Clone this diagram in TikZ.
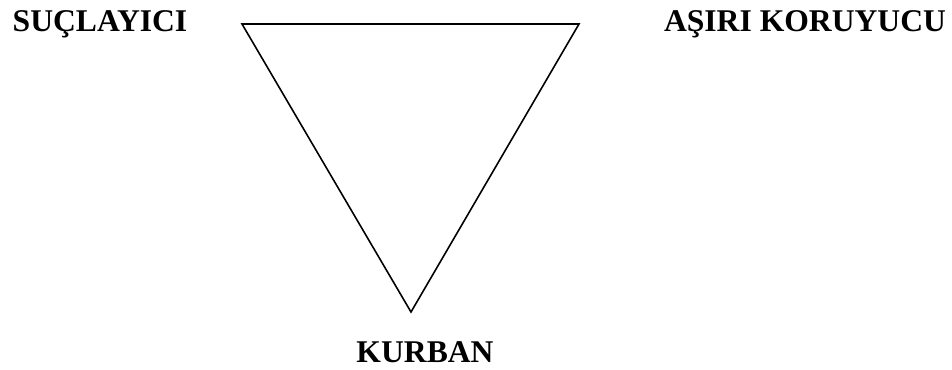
\documentclass[tikz,border=0pt]{standalone}
\usepackage{fontspec}
\setmainfont{Liberation Serif}
\usetikzlibrary{positioning}

\begin{document}
\begin{tikzpicture}[
    x=0.02cm, y=-0.02cm,
    % --- Styles ---
    role/.style={font=\fontsize{18}{21}\selectfont\bfseries, inner sep=0pt, anchor=base},
    edge_line/.style={line width=0.9pt, line join=miter}
]

    % bounding box (952 x 369)
    \useasboundingbox (0,0) rectangle (952,369);

    % ==========================
    % 1. TRIANGLE
    % ==========================
    \coordinate (tl) at (242,24);
    \coordinate (tr) at (579,24);
    \coordinate (bt) at (411,312);

    \draw[edge_line] (tl) -- (tr) -- (bt) -- cycle;

    % ==========================
    % 2. ROLES
    % ==========================
    \node[role] (accuser) at (100,31) {SUÇLAYICI};
    \node[role] (protector) at (805,31) {AŞIRI KORUYUCU};
    \node[role] (victim) at (425,362) {KURBAN};

\end{tikzpicture}
\end{document}
